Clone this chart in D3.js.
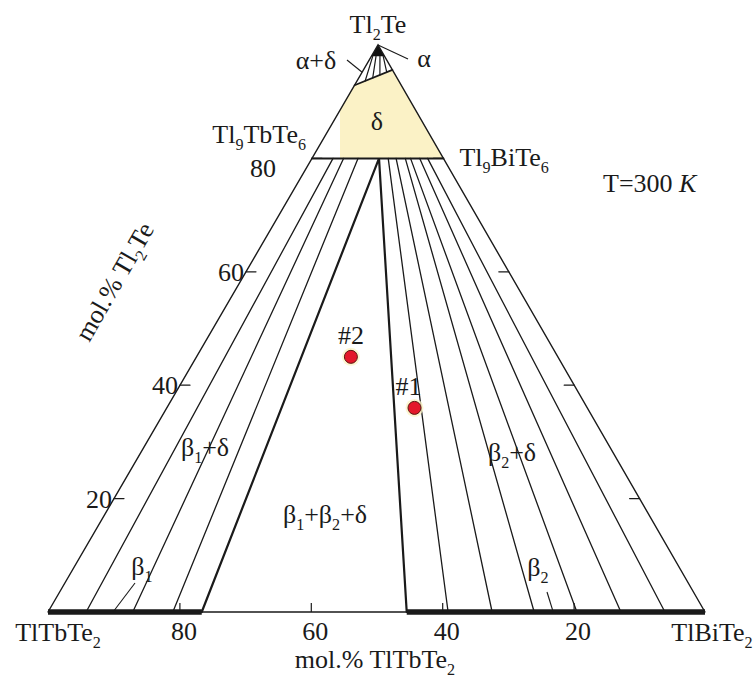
<!DOCTYPE html>
<html>
<head>
<meta charset="utf-8">
<script src="https://cdn.jsdelivr.net/npm/d3@7"></script>
<style>
  html, body { margin: 0; padding: 0; background: #fff; }
  svg { display: block; }
</style>
</head>
<body>
<svg id="chart" width="755" height="677"></svg>
<script>
// ---- Data: isothermal section Tl2Te–TlTbTe2–TlBiTe2 at 300 K (mol.%) ----
const axisTicks = [20, 40, 60, 80];
const deltaTl2Te = 80;                 // Tl9TbTe6–Tl9BiTe6 join (mol.% Tl2Te)
// δ-phase upper limit on the Tl2Te–TlTbTe2 and Tl2Te–TlBiTe2 edges (mol.% Tl2Te)
const deltaUpperLimit = [92.9, 95.6];
// α-phase limit on both edges (mol.% Tl2Te)
const alphaLimit = [98, 98];
// three-phase field β1+β2+δ: δ corner (% Tl9BiTe6 in δ), β1 and β2 limits (% TlTbTe2)
const deltaCorner = 51;
const beta1Limit = 76.6;
const beta2Limit = 45.4;
// tie lines: [δ end, % Tl9BiTe6 in δ ; β end, % TlTbTe2 in β]
const beta1DeltaTies = [[16, 94.2], [24, 87.1], [35, 81.0]];
const beta2DeltaTies = [[58, 39.1], [64, 32.4], [71, 26.0], [75, 19.5], [82, 12.8], [88, 6.1]];
// α+δ tie lines: [fraction along α limit, fraction along δ upper limit]
const alphaDeltaTies = [[0.1, 0.28], [0.35, 0.48], [0.65, 0.67], [0.9, 0.85]];
// samples
const sampleNames = ["#1", "#2"];
const sampleTl2Te = [36, 45];
const sampleTlTbTe2 = [26.3, 31.5];

// ---- Layout ----
const FONT = "'Liberation Serif', 'Times New Roman', 'DejaVu Serif', serif";
const svg = d3.select("#chart").attr("font-family", FONT);
const FS = 26;
const INK = "#1a1a1a";
const leftX = 48, rightX = 705, apexX = 378, baseY = 612, apexY = 45;

// TlTbTe2 content along the base, Tl2Te content as height
const xBase = d3.scaleLinear().domain([100, 0]).range([leftX, rightX]);
const yTe = d3.scaleLinear().domain([0, 100]).range([baseY, apexY]);
const apexLean = (rightX - apexX) / (rightX - leftX);

// composition (mol.% Tl2Te, mol.% TlTbTe2) -> [x, y]
function project(te, tb) {
  return [xBase(tb + te * apexLean), yTe(te)];
}
// point on the Tl9TbTe6–Tl9BiTe6 join, s = % Tl9BiTe6
function deltaPoint(s) {
  const tb = (100 - deltaTl2Te) * (100 - s) / 100;
  return project(deltaTl2Te, tb);
}
const lerp = (a, b, f) => [a[0] + (b[0] - a[0]) * f, a[1] + (b[1] - a[1]) * f];

const line = d3.line();
const P_Tb = project(0, 100), P_Bi = project(0, 0), P_Te = project(100, 0);

function rich(sel, str, fs) {
  const parts = str.split(/_(\d+)/);
  let pending = false;
  parts.forEach((p, i) => {
    if (!p) return;
    if (i % 2 === 1) {
      sel.append("tspan").attr("font-size", fs * 0.62).attr("dy", fs * 0.25).text(p);
      pending = true;
    } else {
      const t = sel.append("tspan").text(p);
      if (pending) { t.attr("dy", -fs * 0.25); pending = false; }
    }
  });
  return sel;
}
function label(x, y, str, anchor = "middle", fs = FS) {
  const t = svg.append("text").attr("x", x).attr("y", y)
    .attr("text-anchor", anchor).attr("font-size", fs)
    .attr("font-family", FONT).attr("fill", INK);
  return rich(t, str, fs);
}

// δ region fill
const dL = project(deltaUpperLimit[0], 100 - deltaUpperLimit[0]);
const dR = project(deltaUpperLimit[1], 0);
const dBL = deltaPoint(0), dBR = deltaPoint(100);
svg.append("clipPath").attr("id", "fillClip")
  .append("rect").attr("x", 340).attr("y", 0).attr("width", 400).attr("height", 677);
svg.append("path")
  .attr("d", line([dL, dR, dBR, dBL]) + "Z")
  .attr("fill", "#fbf2c6").attr("clip-path", "url(#fillClip)");

// α region (solid)
const aL = project(alphaLimit[0], 100 - alphaLimit[0]);
const aR = project(alphaLimit[1], 0);
svg.append("path").attr("d", line([P_Te, aL, aR]) + "Z").attr("fill", "#111");

const g = svg.append("g").attr("fill", "none").attr("stroke", INK).attr("stroke-linecap", "round");

// tie lines
beta1DeltaTies.concat(beta2DeltaTies).forEach(([s, tb]) => {
  g.append("path").attr("d", line([deltaPoint(s), project(0, tb)])).attr("stroke-width", 1.3);
});
alphaDeltaTies.forEach(([fa, fd]) => {
  g.append("path").attr("d", line([lerp(aL, aR, fa), lerp(dL, dR, fd)])).attr("stroke-width", 1.2);
});

// triangle edges
g.append("path").attr("d", line([P_Tb, P_Te, P_Bi])).attr("stroke-width", 1.4).attr("stroke-linejoin", "miter");
// base between the β solid solutions
g.append("path").attr("d", line([project(0, beta1Limit), project(0, beta2Limit)])).attr("stroke-width", 1.4);
// β1 and β2 solid solutions along the base
g.append("path").attr("d", line([P_Tb, project(0, beta1Limit)])).attr("stroke-width", 5.5).attr("stroke-linecap", "butt");
g.append("path").attr("d", line([project(0, beta2Limit), P_Bi])).attr("stroke-width", 5.5).attr("stroke-linecap", "butt");
// δ join and δ upper limit
g.append("path").attr("d", line([dBL, dBR])).attr("stroke-width", 2);
g.append("path").attr("d", line([dL, dR])).attr("stroke-width", 1.8);
// three-phase triangle
g.append("path").attr("d", line([project(0, beta1Limit), deltaPoint(deltaCorner), project(0, beta2Limit)]))
  .attr("stroke-width", 2.2).attr("stroke-linejoin", "miter");

// Tl2Te ticks on both slanted edges
axisTicks.forEach(v => {
  const pl = project(v, 100 - v), pr = project(v, 0);
  g.append("path").attr("d", line([pl, [pl[0] + 10, pl[1]]])).attr("stroke-width", 1.2);
  g.append("path").attr("d", line([pr, [pr[0] - 10, pr[1]]])).attr("stroke-width", 1.2);
  if (v !== 80) label(pl[0] - 2, pl[1] + 9, String(v), "end");
});
{ const p = project(80, 20); label(p[0] - 36, p[1] + 19, "80", "end"); }

// bottom axis (mol.% TlTbTe2)
const ax = svg.append("g").attr("transform", `translate(0,${baseY})`)
  .call(d3.axisBottom(xBase).tickValues(axisTicks.slice().reverse()).tickSize(-9).tickPadding(10).tickFormat(d3.format("d")));
ax.attr("font-family", FONT);
ax.select(".domain").remove();
ax.selectAll(".tick line").attr("stroke", INK).attr("stroke-width", 1.2);
ax.selectAll(".tick text").attr("font-size", FS).attr("font-family", FONT)
  .attr("fill", INK).attr("dx", 4).attr("dy", "0.7em");

// vertices
label(P_Te[0], 33, "Tl_2Te");
label(58, 641, "TlTbTe_2");
label(712, 641, "TlBiTe_2");
label(dBL[0] - 6, 143, "Tl_9TbTe_6", "end");
label(dBR[0] + 16, 166, "Tl_9BiTe_6", "start");

// axis titles
label(375, 668, "mol.% TlTbTe_2");
{
  const t = svg.append("text").attr("font-size", FS).attr("text-anchor", "middle")
    .attr("font-family", FONT).attr("fill", INK)
    .attr("transform", "translate(122,286) rotate(-60)");
  rich(t, "mol.% Tl_2Te", FS);
}

// temperature
{
  const t = svg.append("text").attr("x", 603).attr("y", 192).attr("font-size", FS)
    .attr("font-family", FONT).attr("fill", INK);
  t.append("tspan").text("T=300 ");
  t.append("tspan").attr("font-style", "italic").text("K");
}

// phase field labels
label(377, 130, "δ");
label(316, 69, "α+δ");
label(424, 67, "α");
label(205, 456, "β_1+δ");
label(512, 461, "β_2+δ");
label(325, 523, "β_1+β_2+δ");
label(142, 575, "β_1");
label(538, 576, "β_2");

// leader lines
const ld = svg.append("g").attr("stroke", INK).attr("stroke-width", 1.1);
ld.append("path").attr("d", line([[347, 60], lerp(aL, dL, 0.55)]));
ld.append("path").attr("d", line([[408, 59], P_Te]));
ld.append("path").attr("d", line([[135, 583], project(0, 90.1)]));
ld.append("path").attr("d", line([[547, 592], project(0, 23.1)]));

// samples
sampleNames.forEach((name, i) => {
  const p = project(sampleTl2Te[i], sampleTlTbTe2[i]);
  svg.append("circle").attr("cx", p[0]).attr("cy", p[1]).attr("r", 9)
    .attr("fill", "#fbf2c6").attr("opacity", 0.8);
  svg.append("circle").attr("cx", p[0]).attr("cy", p[1]).attr("r", 6.5)
    .attr("fill", "#e3182a").attr("stroke", "#5a1710").attr("stroke-width", 1);
  label(p[0] - (i === 0 ? 6 : 0), p[1] - 13, name);
});
</script>
</body>
</html>
